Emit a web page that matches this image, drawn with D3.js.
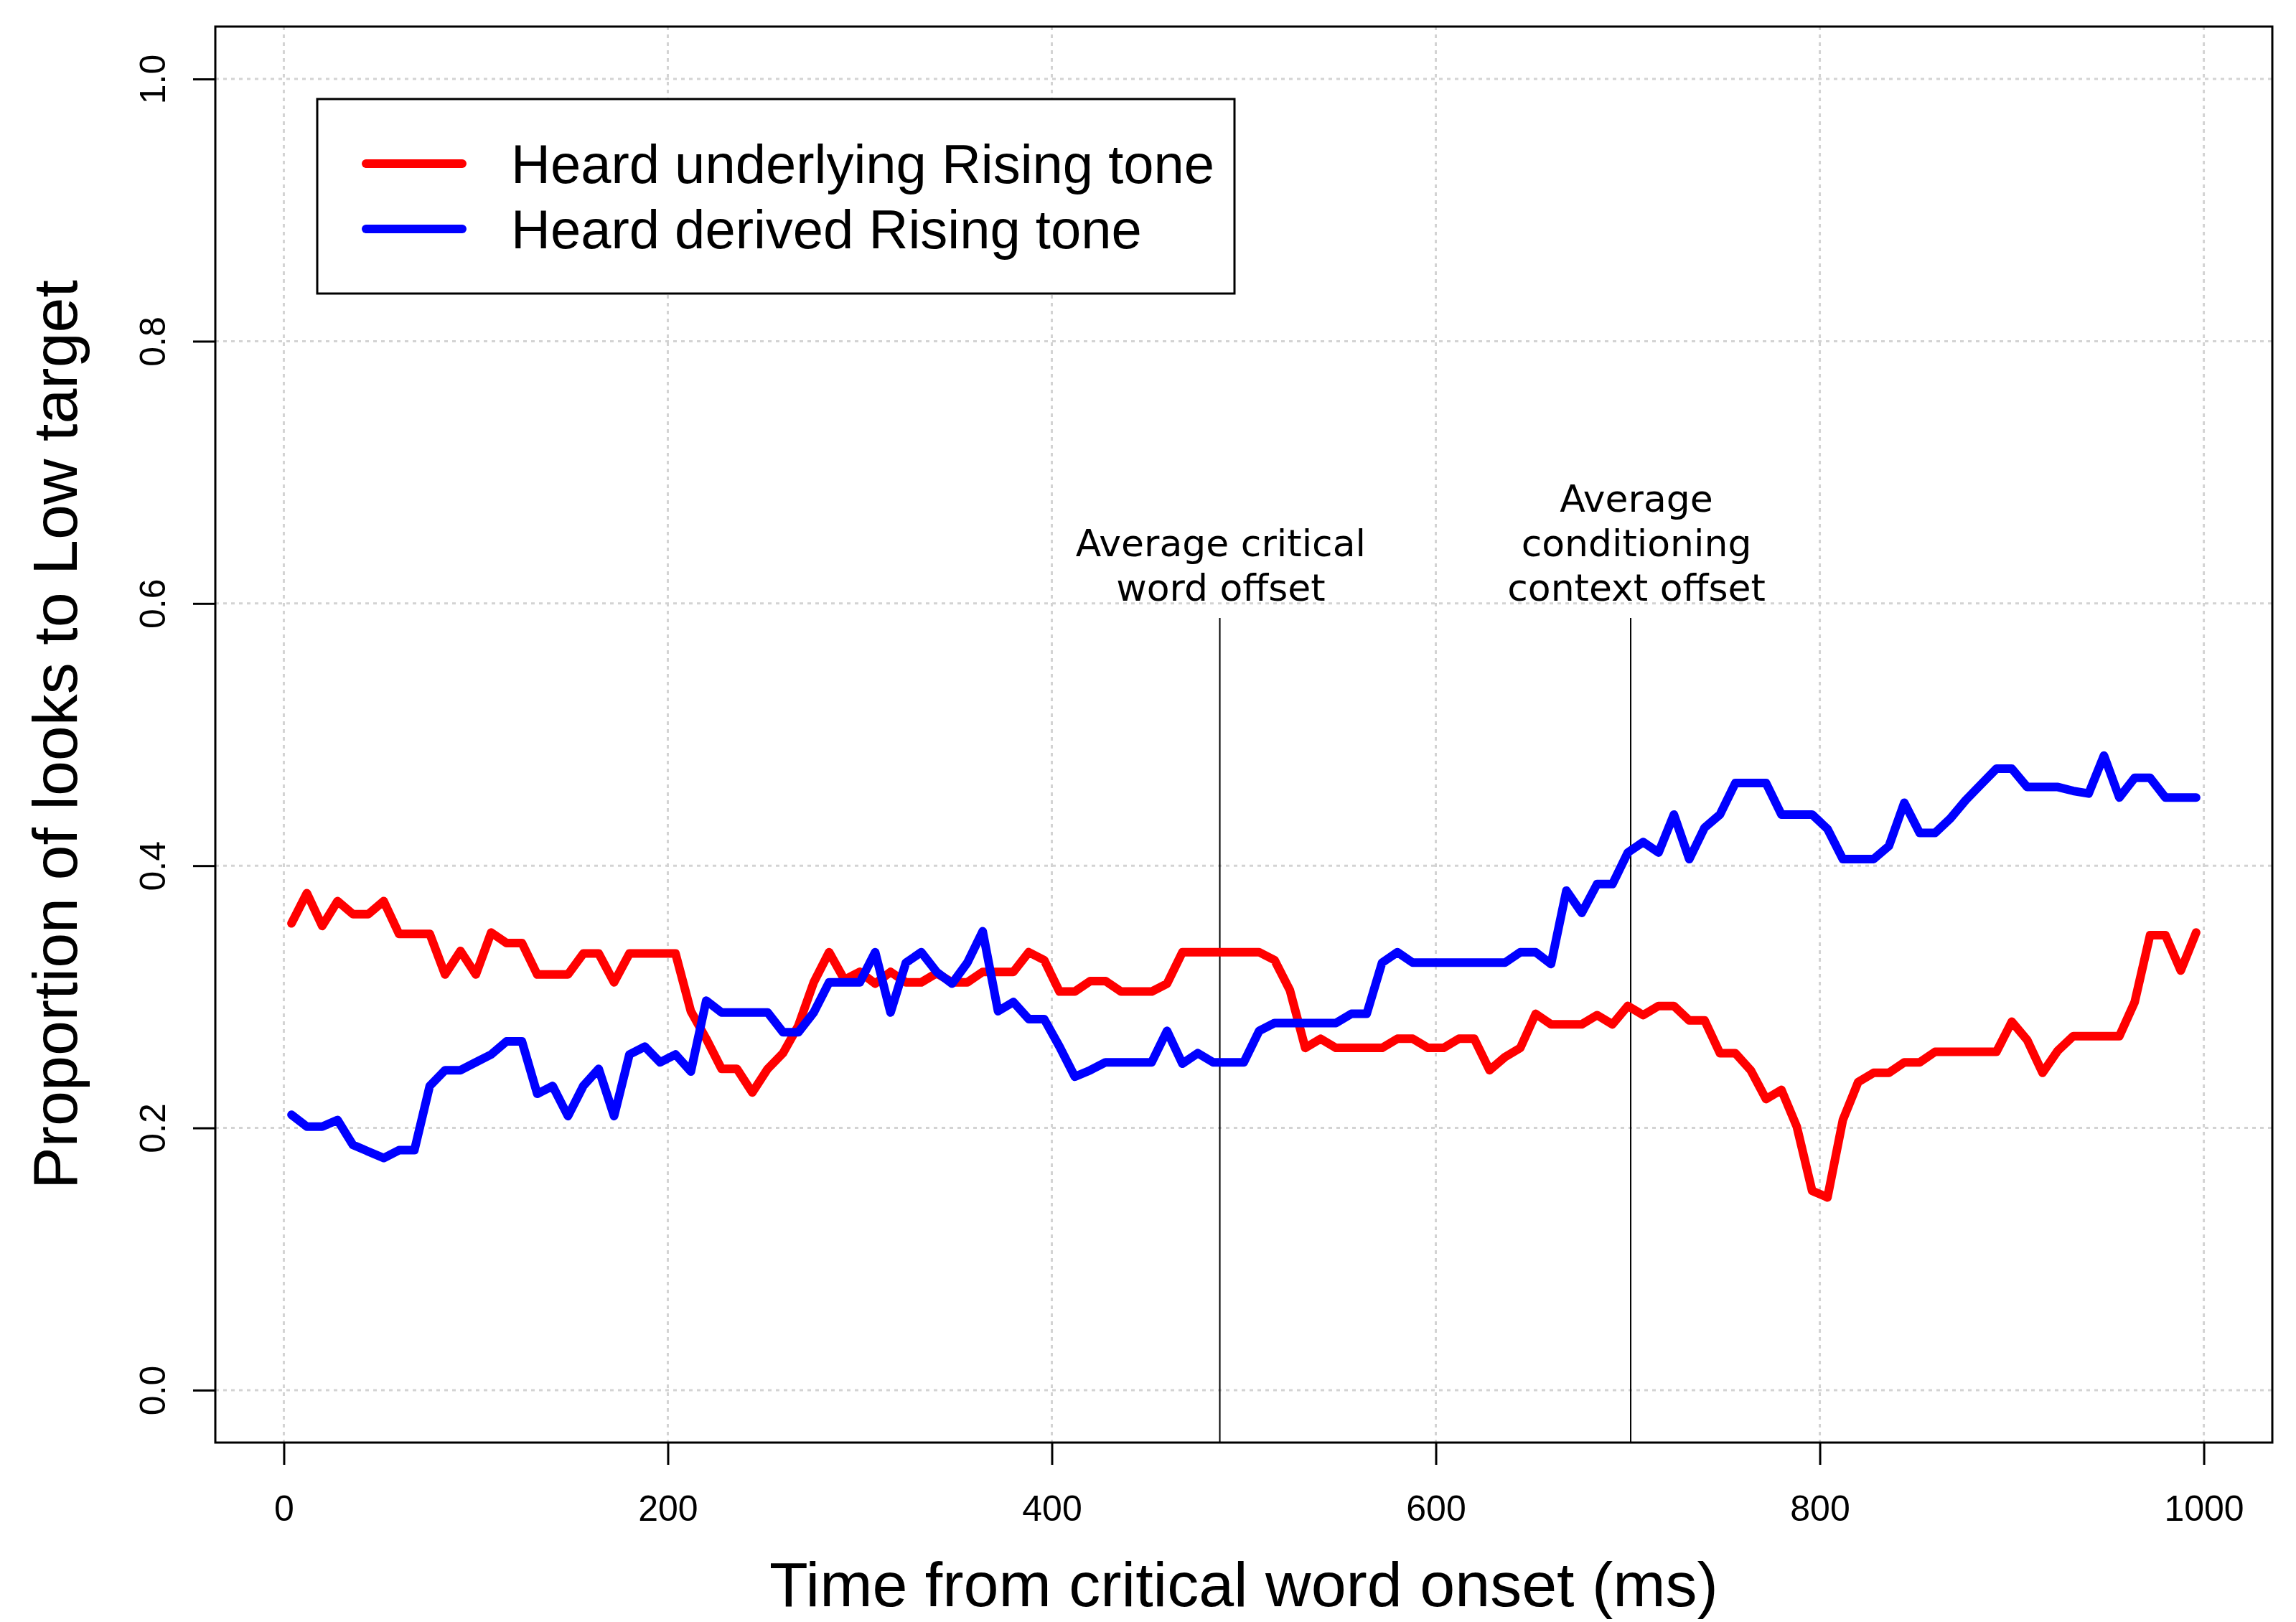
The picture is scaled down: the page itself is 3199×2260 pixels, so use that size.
<!DOCTYPE html>
<html>
<head>
<meta charset="utf-8">
<script src="https://cdn.jsdelivr.net/npm/d3@7"></script>
<style>
  body { margin: 0; background: #fff; }
  svg { display: block; }
</style>
</head>
<body>
<div class="diagram-canvas"></div>
<script>
// sample times (ms from critical word onset)
const times = [
  4, 12, 20, 28, 36, 44, 52, 60, 68, 76, 84, 92, 100, 108, 116, 124,
  132, 140, 148, 156, 164, 172, 180, 188, 196, 204, 212, 220, 228, 236, 244, 252,
  260, 268, 276, 284, 292, 300, 308, 316, 324, 332, 340, 348, 356, 364, 372, 380,
  388, 396, 404, 412, 420, 428, 436, 444, 452, 460, 468, 476, 484, 492, 500, 508,
  516, 524, 532, 540, 548, 556, 564, 572, 580, 588, 596, 604, 612, 620, 628, 636,
  644, 652, 660, 668, 676, 684, 692, 700, 708, 716, 724, 732, 740, 748, 756, 764,
  772, 780, 788, 796, 804, 812, 820, 828, 836, 844, 852, 860, 868, 876, 884, 892,
  900, 908, 916, 924, 932, 940, 948, 956, 964, 972, 980, 988, 996
];

const underlying = [
  0.356, 0.379, 0.354, 0.373, 0.363, 0.363, 0.373, 0.348, 0.348, 0.348, 0.317, 0.335, 0.317, 0.349, 0.341, 0.341,
  0.317, 0.317, 0.317, 0.333, 0.333, 0.311, 0.333, 0.333, 0.333, 0.333, 0.289, 0.268, 0.245, 0.245, 0.227, 0.245,
  0.257, 0.278, 0.311, 0.334, 0.313, 0.319, 0.310, 0.319, 0.311, 0.311, 0.318, 0.311, 0.311, 0.319, 0.319, 0.319,
  0.334, 0.328, 0.304, 0.304, 0.312, 0.312, 0.304, 0.304, 0.304, 0.310, 0.334, 0.334, 0.334, 0.334, 0.334, 0.334,
  0.328, 0.305, 0.261, 0.268, 0.261, 0.261, 0.261, 0.261, 0.268, 0.268, 0.261, 0.261, 0.268, 0.268, 0.244, 0.254,
  0.261, 0.287, 0.279, 0.279, 0.279, 0.286, 0.279, 0.293, 0.286, 0.293, 0.293, 0.282, 0.282, 0.257, 0.257, 0.244,
  0.222, 0.229, 0.201, 0.152, 0.147, 0.206, 0.235, 0.242, 0.242, 0.250, 0.250, 0.258, 0.258, 0.258, 0.258, 0.258,
  0.281, 0.267, 0.242, 0.259, 0.270, 0.270, 0.270, 0.270, 0.296, 0.347, 0.347, 0.320, 0.349
];

const derived = [
  0.210, 0.201, 0.201, 0.206, 0.187, 0.182, 0.177, 0.183, 0.183, 0.232, 0.244, 0.244, 0.250, 0.256, 0.266, 0.266,
  0.226, 0.232, 0.209, 0.232, 0.245, 0.209, 0.256, 0.262, 0.250, 0.256, 0.243, 0.297, 0.288, 0.288, 0.288, 0.288,
  0.273, 0.273, 0.288, 0.311, 0.311, 0.311, 0.334, 0.288, 0.326, 0.334, 0.319, 0.310, 0.326, 0.350, 0.289, 0.296,
  0.283, 0.283, 0.262, 0.239, 0.244, 0.250, 0.250, 0.250, 0.250, 0.274, 0.249, 0.257, 0.250, 0.250, 0.250, 0.274,
  0.280, 0.280, 0.280, 0.280, 0.280, 0.287, 0.287, 0.326, 0.334, 0.326, 0.326, 0.326, 0.326, 0.326, 0.326, 0.326,
  0.334, 0.334, 0.325, 0.381, 0.364, 0.386, 0.386, 0.410, 0.418, 0.410, 0.439, 0.405, 0.429, 0.439, 0.463, 0.463,
  0.463, 0.439, 0.439, 0.439, 0.428, 0.405, 0.405, 0.405, 0.415, 0.448, 0.425, 0.425, 0.436, 0.450, 0.462, 0.474,
  0.474, 0.460, 0.460, 0.460, 0.457, 0.455, 0.484, 0.452, 0.467, 0.467, 0.452, 0.452, 0.452
];

const seriesNames = ["Heard underlying Rising tone", "Heard derived Rising tone"];
const seriesColors = ["#ff0000", "#0000ff"];

const xTicks = [0, 200, 400, 600, 800, 1000];
const yTicks = [0, 0.2, 0.4, 0.6, 0.8, 1.0];

const markerTimes = [487.5, 701.5];
const markerLabelTimes = [488, 704.5];
const markerLabels = [
  ["Average critical", "word offset"],
  ["Average", "conditioning", "context offset"]
];

function chartLines() {
  let width = 3199,
    height = 2260,
    left = 300,
    right = 3166,
    top = 37,
    bottom = 2010;

  // R-style 4% padding around the data range
  let xPad = (d3.max(times) - d3.min(times)) * 0.04;
  let xScale = d3
    .scaleLinear()
    .domain([d3.min(times) - xPad, d3.max(times) + xPad])
    .range([left, right]);

  let yScale = d3.scaleLinear().domain([-0.04, 1.04]).range([bottom, top]);

  let svg = d3
    .select(".diagram-canvas")
    .append("svg")
    .attr("width", width)
    .attr("height", height)
    .style("font-family", "'Liberation Sans', Arial, Helvetica, sans-serif");

  // grid
  let grid = svg.append("g").attr("stroke", "#d3d3d3").attr("stroke-width", 3).attr("stroke-dasharray", "5,6");
  grid
    .selectAll(".gx")
    .data(xTicks)
    .enter()
    .append("line")
    .attr("x1", (d) => xScale(d))
    .attr("x2", (d) => xScale(d))
    .attr("y1", top)
    .attr("y2", bottom);
  grid
    .selectAll(".gy")
    .data(yTicks)
    .enter()
    .append("line")
    .attr("x1", left)
    .attr("x2", right)
    .attr("y1", (d) => yScale(d))
    .attr("y2", (d) => yScale(d));

  // marker lines and their labels
  markerTimes.forEach((t, k) => {
    svg
      .append("line")
      .attr("x1", xScale(t))
      .attr("x2", xScale(t))
      .attr("y1", yScale(0.589))
      .attr("y2", bottom)
      .attr("stroke", "#000")
      .attr("stroke-width", 2);
    let lines = markerLabels[k];
    svg
      .append("g")
      .selectAll("text")
      .data(lines)
      .enter()
      .append("text")
      .attr("x", xScale(markerLabelTimes[k]))
      .attr("y", (d, i) => yScale(0.602) - (lines.length - 1 - i) * 62)
      .attr("text-anchor", "middle")
      .style("font-family", "'DejaVu Sans', Verdana, sans-serif")
      .style("font-size", "52px")
      .text((d) => d);
  });

  // series
  let line = d3
    .line()
    .x((d, i) => xScale(times[i]))
    .y((d) => yScale(d));

  [underlying, derived].forEach((vals, k) => {
    svg
      .append("path")
      .datum(vals)
      .attr("d", line)
      .attr("fill", "none")
      .attr("stroke", seriesColors[k])
      .attr("stroke-width", 12)
      .attr("stroke-linejoin", "round")
      .attr("stroke-linecap", "round");
  });

  // axes
  let xAxis = d3.axisBottom(xScale).tickValues(xTicks).tickSize(31).tickPadding(42).tickFormat(d3.format("d"));
  let gx = svg
    .append("g")
    .attr("transform", "translate(0," + bottom + ")")
    .call(xAxis);
  gx.select(".domain").remove();
  gx.selectAll("line").attr("stroke", "#000").attr("stroke-width", 3);
  gx.selectAll("text")
    .attr("fill", "#000")
    .style("font-family", "'Liberation Sans', Arial, Helvetica, sans-serif")
    .style("font-size", "50px");

  let yAxis = d3.axisLeft(yScale).tickValues(yTicks).tickSize(31).tickFormat(d3.format(".1f"));
  let gy = svg
    .append("g")
    .attr("transform", "translate(" + left + ",0)")
    .call(yAxis);
  gy.select(".domain").remove();
  gy.selectAll("line").attr("stroke", "#000").attr("stroke-width", 3);
  gy.selectAll("text")
    .attr("fill", "#000")
    .attr("transform", "rotate(-90)")
    .attr("x", 0)
    .attr("y", -70)
    .attr("dy", 0)
    .attr("text-anchor", "middle")
    .style("font-family", "'Liberation Sans', Arial, Helvetica, sans-serif")
    .style("font-size", "50px");

  // plot box
  svg
    .append("rect")
    .attr("x", left)
    .attr("y", top)
    .attr("width", right - left)
    .attr("height", bottom - top)
    .attr("fill", "none")
    .attr("stroke", "#000")
    .attr("stroke-width", 3);

  // axis titles
  svg
    .append("text")
    .attr("x", (left + right) / 2)
    .attr("y", 2238)
    .attr("text-anchor", "middle")
    .style("font-size", "88px")
    .text("Time from critical word onset (ms)");
  svg
    .append("text")
    .attr("transform", "translate(107," + (top + bottom) / 2 + ") rotate(-90)")
    .attr("text-anchor", "middle")
    .style("font-size", "88px")
    .text("Proportion of looks to Low target");

  // legend
  let legend = svg.append("g");
  legend
    .append("rect")
    .attr("x", 442)
    .attr("y", 138)
    .attr("width", 1278)
    .attr("height", 271)
    .attr("fill", "#fff")
    .attr("stroke", "#000")
    .attr("stroke-width", 3);
  seriesNames.forEach((name, k) => {
    let cy = 228 + k * 91;
    legend
      .append("line")
      .attr("x1", 510)
      .attr("x2", 644)
      .attr("y1", cy)
      .attr("y2", cy)
      .attr("stroke", seriesColors[k])
      .attr("stroke-width", 12)
      .attr("stroke-linecap", "round");
    legend
      .append("text")
      .attr("x", 712)
      .attr("y", cy + 27)
      .style("font-size", "76px")
      .text(name);
  });
}

chartLines();
</script>
</body>
</html>
